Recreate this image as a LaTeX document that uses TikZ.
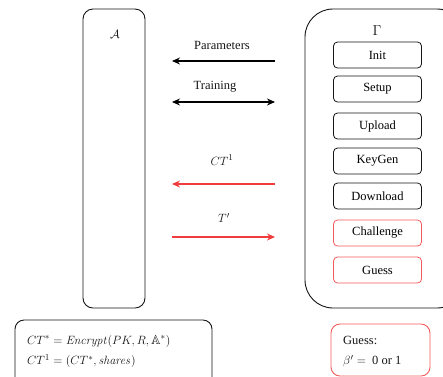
\documentclass[tikz,border=0pt]{standalone}
\usepackage{amssymb}
\usepackage[no-math]{fontspec}
\setmainfont{Liberation Serif}
\usetikzlibrary{arrows.meta}
\definecolor{alertred}{RGB}{240,60,60}
\definecolor{boxred}{RGB}{245,90,90}
\definecolor{inkgray}{RGB}{20,20,20}
\tikzset{
  party/.style={draw=inkgray, line width=0.9pt, rounded corners=#1},
  phase/.style={draw=inkgray, line width=0.8pt, rounded corners=4pt,
    minimum width=88pt, minimum height=26pt, inner sep=0pt},
  redphase/.style={phase, draw=boxred},
  msg/.style={line width=1.1pt, -{Stealth[length=8pt,width=7pt]}},
  dmsg/.style={line width=1.1pt, {Stealth[length=8pt,width=7pt]}-{Stealth[length=8pt,width=7pt]}},
  lbl/.style={inner sep=0pt, text=inkgray},
  mathlbl/.style={lbl, font=\fontsize{13.2}{15}\selectfont},
}
\begin{document}
\begin{tikzpicture}[x=1pt,y=-1pt,font=\fontsize{12.5}{15}\selectfont]
\useasboundingbox (0,0) rectangle (443,376);
\begin{scope}
\clip (0,0) rectangle (443,376);
% adversary and challenger
\node[party=10pt, minimum width=62pt, minimum height=299pt, inner sep=0pt] (adv) at (114,158.5) {};
\node[mathlbl] (advname) at (115,34) {$\mathcal{A}$};
\node[party=28pt, minimum width=160pt, minimum height=299pt, inner sep=0pt] (chal) at (385,158.5) {};
\node[lbl, font=\fontsize{13.6}{16}\selectfont] (chalname) at (377,31) {$\Gamma$};
% phases of the game
\node[phase] (init) at (377.5,55) {Init};
\node[phase] (setup) at (377.5,89) {Setup};
\node[phase] (upload) at (377.5,126) {Upload};
\node[phase] (keygen) at (377.5,161) {KeyGen};
\node[phase] (download) at (377.5,196) {Download};
\node[redphase] (challenge) at (377.5,233) {Challenge};
\node[redphase] (guess) at (377.5,270) {Guess};
% message end points
\coordinate (pR) at (275,61);   \coordinate (pL) at (172,61);
\coordinate (tR) at (275,102);  \coordinate (tL) at (172,102);
\coordinate (cR) at (275,184);  \coordinate (cL) at (172,184);
\coordinate (gR) at (275,237);  \coordinate (gL) at (172,237);
\draw[msg] (pR) -- (pL);
\draw[dmsg] (tL) -- (tR);
\draw[msg, alertred] (cR) -- (cL);
\draw[msg, alertred] (gL) -- (gR);
\node[lbl] (plbl) at (222,45) {Parameters};
\node[lbl] (tlbl) at (215,87) {Training};
\node[mathlbl] (clbl) at (222,160) {$CT^1$};
\node[mathlbl] (glbl) at (224,218) {$T'$};
% notes
\node[party=9pt, minimum width=197pt, minimum height=70pt, inner sep=0pt] (ctnote) at (113.5,355) {};
\node[mathlbl, anchor=west] (ct1) at (27,341) {$CT^* = \mathit{Encrypt}(PK, R, \mathbb{A}^*)$};
\node[mathlbl, anchor=west] (ct2) at (27,361) {$CT^1 = (CT^*, \mathit{shares})$};
\node[party=9pt, draw=boxred, minimum width=99pt, minimum height=52pt, inner sep=0pt] (gnote) at (380.5,350) {};
\node[lbl, anchor=west] (g1) at (343,340) {Guess:};
\node[lbl, anchor=west] (g2) at (343,361) {{\fontsize{13.2}{15}\selectfont$\beta' =$}\ \ 0 or 1};
\end{scope}
\end{tikzpicture}
\end{document}
